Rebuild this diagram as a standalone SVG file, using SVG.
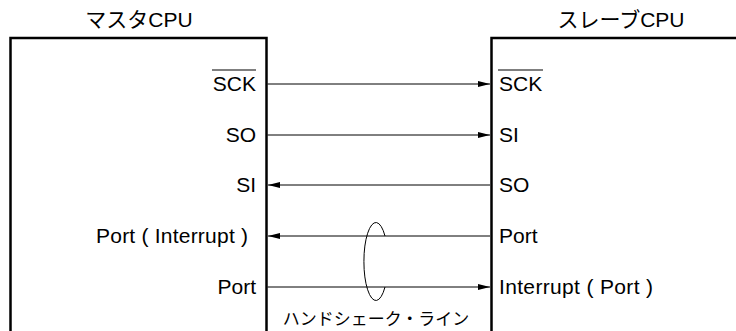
<svg xmlns="http://www.w3.org/2000/svg" width="736" height="331" viewBox="0 0 736 331">
<style>
.t{font-family:"Liberation Sans","Noto Sans CJK JP",Arial,sans-serif;font-size:21px;fill:#000}
.j{font-family:"Liberation Sans","Noto Sans CJK JP",sans-serif;fill:#000}
.box{fill:none;stroke:#000;stroke-width:2.5}
.ln{stroke:#000;stroke-width:1;fill:none}
.ov{stroke:#000;stroke-width:1.2}
</style>
<defs>
<marker id="ah" viewBox="0 0 12 6" refX="12" refY="3" markerWidth="12" markerHeight="6" markerUnits="userSpaceOnUse" orient="auto">
<path d="M0,0 L12,3 L0,6 z" fill="#000"/>
</marker>
</defs>
<g id="master">
<rect class="box" x="10.5" y="38" width="256" height="320"/>
<text class="j" x="139" y="27" font-size="21" text-anchor="middle">マスタCPU</text>
<text class="t" x="256" y="91" text-anchor="end">SCK</text>
<line class="ov" x1="212" y1="70" x2="256" y2="70"/>
<text class="t" x="256" y="142" text-anchor="end">SO</text>
<text class="t" x="256" y="192" text-anchor="end">SI</text>
<text class="t" x="96" y="243" textLength="152" lengthAdjust="spacing">Port ( Interrupt )</text>
<text class="t" x="256" y="294" text-anchor="end">Port</text>
</g>
<g id="slave">
<rect class="box" x="491.5" y="38" width="300" height="320"/>
<text class="j" x="621" y="27" font-size="21" text-anchor="middle">スレーブCPU</text>
<text class="t" x="499" y="91">SCK</text>
<line class="ov" x1="498" y1="70" x2="543" y2="70"/>
<text class="t" x="499" y="142">SI</text>
<text class="t" x="499" y="192">SO</text>
<text class="t" x="499" y="243">Port</text>
<text class="t" x="499" y="294" textLength="154" lengthAdjust="spacing">Interrupt ( Port )</text>
</g>
<g id="connectors">
<line class="ln" x1="267.5" y1="84" x2="490" y2="84" marker-end="url(#ah)"/>
<line class="ln" x1="267.5" y1="135" x2="490" y2="135" marker-end="url(#ah)"/>
<line class="ln" x1="490" y1="185" x2="268" y2="185" marker-end="url(#ah)"/>
<line class="ln" x1="490" y1="236" x2="268" y2="236" marker-end="url(#ah)"/>
<line class="ln" x1="267.5" y1="287" x2="490" y2="287" marker-end="url(#ah)"/>
</g>
<g id="handshake">
<path class="ln" d="M385,236 A12,39 0 1 0 385,287"/>
<text class="j" x="376" y="325" font-size="17" text-anchor="middle">ハンドシェーク・ライン</text>
</g>
</svg>
